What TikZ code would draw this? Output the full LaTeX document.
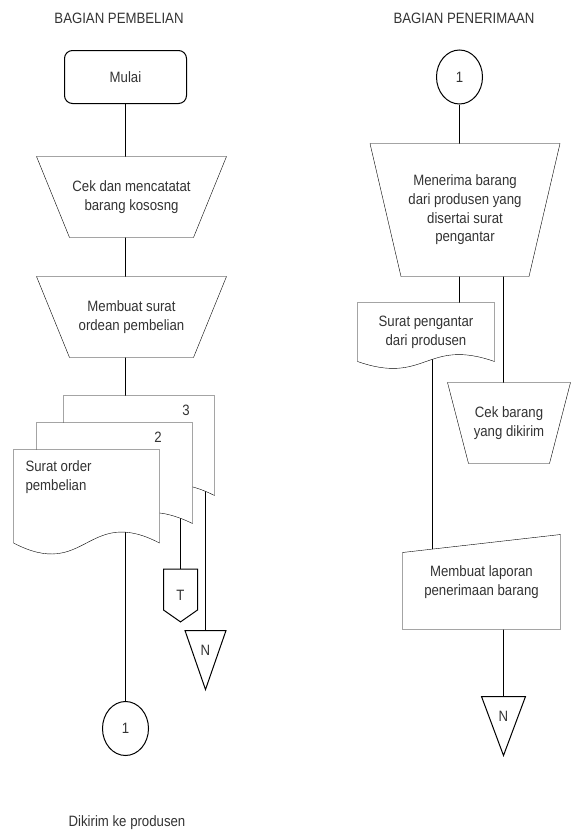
\documentclass[tikz,border=0pt]{standalone}
\usepackage{fontspec}
\setmainfont[FakeStretch=0.88]{Liberation Sans}
\usetikzlibrary{shapes.geometric, shapes.symbols, backgrounds}

% garis bentuk di belakang teks
\newcommand{\trapbg}[2]{\filldraw[fill=white] (#1.north west) -- (#1.north east) -- ([xshift=-#2]#1.south east) -- ([xshift=#2]#1.south west) -- cycle;}
\newcommand{\dokbg}[2]{\filldraw[fill=white] (#1.south west) -- (#1.north west) -- (#1.north east) -- (#1.south east) .. controls ([yshift=#2]#1.south) and ([yshift=-#2]#1.south) .. (#1.south west) -- cycle;}

\begin{document}
\begin{tikzpicture}[x=1pt,y=-1pt, line width=1pt,
		every node/.style={font=\fontsize{15}{18.7}\selectfont, text=black!80, align=center},
		kotak/.style={inner sep=0pt},
		conn/.style={ellipse, draw, fill=white, minimum width=46pt, minimum height=54pt},
		tri/.style={isosceles triangle, isosceles triangle stretches, shape border rotate=270, draw, fill=white, inner sep=0pt, anchor=north}]
	\useasboundingbox (0,0) rectangle (576,830);
	% bagian pembelian
	\node (judul1) at (119,18) {BAGIAN PEMBELIAN};
	\node[draw, fill=white, rounded corners=8pt, minimum width=122pt, minimum height=53pt] (mulai) at (125.5,77) {Mulai};
	\node[kotak, minimum width=189pt, minimum height=80pt] (cek) at (131.5,197) {Cek dan mencatatat\\barang kososng};
	\node[kotak, minimum width=189pt, minimum height=80pt] (buat) at (131.5,317) {Membuat surat\\ordean pembelian};
	\node[kotak, minimum width=150pt, minimum height=99pt] (doc3) at (139,445.5) {};
	\node[kotak, minimum width=155pt, minimum height=100pt] (doc2) at (114.5,473) {};
	\node[kotak, minimum width=145pt, minimum height=92.5pt] (doc1) at (86.5,496.25) {};
	\node (lbl3) at (186,410) {3};
	\node (lbl2) at (158,437) {2};
	\node[anchor=north west, align=left, inner sep=0pt] (surat) at (25,460) {Surat order\\pembelian};
	\node[signal, signal to=south, signal from=nowhere, signal pointer angle=110, draw, fill=white, minimum width=34pt, minimum height=41pt, inner sep=0pt,
		label={[anchor=center, yshift=-27pt]north:T}] (tt) at (180.5,589.5) {};
	\node[tri, minimum width=41pt, minimum height=59pt, label={[anchor=center, yshift=-20pt]north:N}] (n1) at (205.5,630) {};
	\node[conn] (c1) at (125.5,728.5) {1};
	\node (kirim) at (127,823) {Dikirim ke produsen};
	% bagian penerimaan
	\node (judul2) at (464,18) {BAGIAN PENERIMAAN};
	\node[conn] (c2) at (459.5,77) {1};
	\node[kotak, minimum width=189pt, minimum height=132pt] (terima) at (465,210) {Menerima barang\\dari produsen yang\\disertai surat\\pengantar};
	\node[kotak, minimum width=136pt, minimum height=58pt] (sp) at (426,332) {Surat pengantar\\dari produsen};
	\node[kotak, minimum width=122pt, minimum height=80pt] (cekb) at (509,423) {Cek barang\\yang dikirim};
	\node[kotak, minimum width=157pt, minimum height=94pt] (lap) at (481.5,582) {Membuat laporan\\penerimaan barang};
	\node[tri, minimum width=44pt, minimum height=59pt, label={[anchor=center, yshift=-20pt]north:N}] (n2) at (503.5,696) {};
	% garis penghubung
	\begin{scope}[on background layer]
		\draw (mulai) -- (mulai |- doc3.center);
		\draw (c1) -- (c1 |- doc1.center);
		\draw (tt) -- (tt |- doc2.center);
		\draw (n1) -- (n1 |- doc3.center);
		\draw (c2) -- (c2 |- sp.center);
		\draw (n2 |- terima.center) -- (n2 |- cekb.center);
		\draw ([xshift=6.5pt]sp.center) -- ([xshift=6.5pt]sp.center |- lap.center);
		\draw (n2) -- (n2 |- lap.center);
		\trapbg{cek}{33pt}
		\trapbg{buat}{33pt}
		\dokbg{doc3}{38pt}
		\dokbg{doc2}{38pt}
		\dokbg{doc1}{38pt}
		\trapbg{terima}{31pt}
		\dokbg{sp}{24pt}
		\trapbg{cekb}{21pt}
		\filldraw[fill=white] (lap.north east) -- (lap.south east) -- (lap.south west) -- ([yshift=-18pt]lap.north west) -- cycle;
	\end{scope}
\end{tikzpicture}
\end{document}
